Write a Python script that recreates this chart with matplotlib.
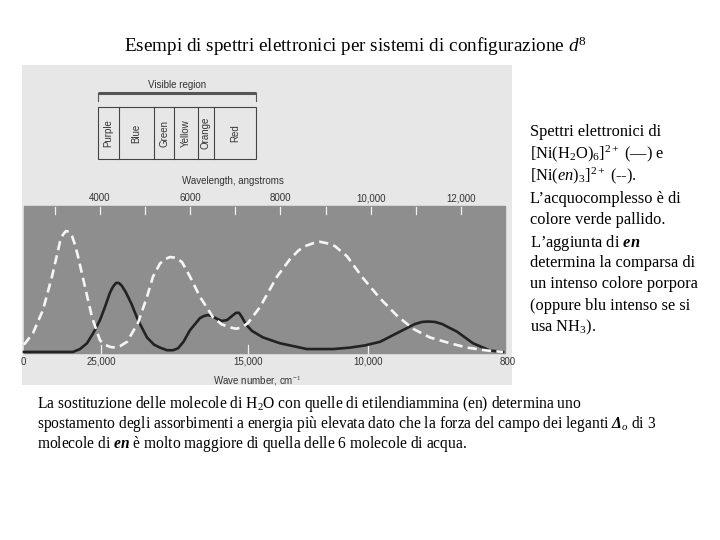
import matplotlib
matplotlib.use("Agg")
import matplotlib.pyplot as plt
from matplotlib.patches import Rectangle

plt.rcParams["font.family"] = ["Liberation Serif", "DejaVu Serif"]
plt.rcParams["mathtext.fontset"] = "custom"
plt.rcParams["mathtext.rm"] = "Liberation Serif"
plt.rcParams["mathtext.it"] = "Liberation Serif:italic"
plt.rcParams["mathtext.bf"] = "Liberation Serif:bold"
plt.rcParams["mathtext.bfit"] = "Liberation Serif:italic:bold"

# [Ni(en)3]2+ absorption (dashed), wavelength in angstrom / arbitrary absorbance
wl_en = [2315, 2515, 2736, 2936, 3069, 3113, 3180, 3246, 3313, 3379, 3446, 3512,
         3667, 3823, 4000, 4111, 4222, 4333, 4443, 4599, 4842, 5042, 5175, 5330,
         5441, 5552, 5685, 5818, 5995, 6217, 6505, 6700, 6882, 7015, 7148, 7281,
         7547, 7924, 8212, 8400, 8545, 8722, 8877, 9033, 9210, 9476, 9830, 10208,
         10585, 10940, 11316, 11760, 12136, 12580, 12935]
abs_en = [0.05, 0.13, 0.29, 0.52, 0.70, 0.76, 0.81, 0.834, 0.83, 0.80, 0.74, 0.66,
          0.45, 0.24, 0.08, 0.05, 0.035, 0.03, 0.04, 0.07, 0.20, 0.38, 0.52, 0.61,
          0.64, 0.655, 0.65, 0.62, 0.52, 0.38, 0.24, 0.19, 0.17, 0.16, 0.17, 0.20,
          0.31, 0.52, 0.64, 0.70, 0.73, 0.75, 0.76, 0.75, 0.73, 0.66, 0.51, 0.37,
          0.25, 0.16, 0.10, 0.06, 0.03, 0.01, 0.0]

# [Ni(H2O)6]2+ absorption (solid)
wl_aq = [2315, 2892, 3401, 3557, 3712, 3850, 4000, 4110, 4222, 4288, 4355, 4421,
         4488, 4576, 4700, 4842, 5042, 5200, 5330, 5485, 5618, 5730, 5850, 5995,
         6217, 6306, 6394, 6483, 6594, 6705, 6816, 6926, 7015, 7082, 7148, 7237,
         7370, 7614, 7991, 8589, 9166, 9543, 9870, 10208, 10585, 10984, 11139, 11272,
         11427, 11582, 11915, 12269, 12646, 12935]
abs_aq = [0.0, 0.0, 0.0, 0.02, 0.06, 0.13, 0.22, 0.31, 0.41, 0.45, 0.476, 0.476,
          0.455, 0.41, 0.33, 0.22, 0.10, 0.05, 0.03, 0.012, 0.012, 0.025, 0.07, 0.15,
          0.234, 0.248, 0.255, 0.248, 0.228, 0.214, 0.22, 0.248, 0.27, 0.27, 0.24, 0.19,
          0.145, 0.10, 0.06, 0.02, 0.02, 0.03, 0.045, 0.07, 0.13, 0.193, 0.207, 0.21,
          0.207, 0.193, 0.14, 0.06, 0.01, 0.0]

visible_edges = [3950, 4420, 5200, 5640, 6170, 6530, 7460]
visible_names = ["Purple", "Blue", "Green", "Yellow", "Orange", "Red"]

wl_ticks = [3000, 4000, 5000, 6000, 7000, 8000, 9000, 10000, 11000, 12000]
wl_label_pos = [4000, 6000, 8000, 10000, 12000]
wl_labels = ["4000", "6000", "8000", "10,000", "12,000"]

wn_label_pos = [2290, 4020, 7281, 9942, 13045]
wn_labels = ["0", "25,000", "15,000", "10,000", "800"]
wn_ticks = [4020, 7281, 9942]

W, H = 720, 540
fig = plt.figure(figsize=(7.2, 5.4), dpi=100)
fig.patch.set_facecolor("white")


def fx(px):
    return px / W


def fy(py):
    return 1 - py / H


fig.text(fx(356), fy(52), "Esempi di spettri elettronici per sistemi di configurazione $\\mathit{d}^{8}$",
         ha="center", va="baseline", fontsize=13.8, color="black")

# scanned figure area: x = wavelength, y = absorbance (extended upward for the legend diagram)
ax = fig.add_axes([fx(22), fy(385), fx(512) - fx(22), fy(65) - fy(385)])
ax.set_xlim(2271, 13134)
ax.set_ylim(-0.228, 1.98)
ax.axis("off")
ax.add_patch(Rectangle((0, 0), 1, 1, transform=ax.transAxes, color="#e7e7e7", zorder=0))
ax.add_patch(Rectangle((2315, -0.007), 12979 - 2315, 1.014, color="#8e8e8e", zorder=1))

ax.plot(wl_aq, abs_aq, color="#222222", lw=1.9, solid_joinstyle="round", zorder=3)
ax.plot(wl_en, abs_en, color="#f5f5f5", lw=1.9, dashes=(3.5, 2.0), zorder=4)

# wavelength ticks at the top of the panel
for t in wl_ticks:
    ax.plot([t, t], [1.0, 0.952], color="#f0f0f0", lw=0.9, zorder=2)
for t, lab in zip(wl_label_pos, wl_labels):
    ax.text(t, 1.062, lab, ha="center", va="center", fontsize=7,
            family="Liberation Sans", color="#333333")
ax.text(6949, 1.179, "Wavelength, angstroms", ha="center", va="center", fontsize=7,
        family="Liberation Sans", color="#333333")

# wave number ticks at the bottom
for t in wn_ticks:
    ax.plot([t, t], [-0.007, 0.048], color="#f0f0f0", lw=0.9, zorder=2)
for t, lab in zip(wn_label_pos, wn_labels):
    ax.text(t, -0.069, lab, ha="center", va="center", fontsize=7,
            family="Liberation Sans", color="#333333")
ax.text(7481, -0.2, "Wave number, cm$^{-1}$", ha="center", va="center", fontsize=7,
        family="Liberation Sans", color="#333333")

# visible region diagram
lo, hi = visible_edges[0], visible_edges[-1]
ax.plot([lo, hi], [1.786, 1.786], color="#555555", lw=2.2, solid_capstyle="butt")
ax.plot([lo, lo], [1.786, 1.73], color="#555555", lw=0.8)
ax.plot([hi, hi], [1.786, 1.73], color="#555555", lw=0.8)
ax.text((lo + hi) / 2, 1.841, "Visible region", ha="center", va="center", fontsize=7,
        family="Liberation Sans", color="#333333")
ax.add_patch(Rectangle((lo, 1.331), hi - lo, 0.359, fill=False, ec="#444444", lw=0.8))
for e in visible_edges[1:-1]:
    ax.plot([e, e], [1.331, 1.69], color="#444444", lw=0.8)
for a, b, name in zip(visible_edges[:-1], visible_edges[1:], visible_names):
    ax.text((a + b) / 2, 1.51, name, ha="center", va="center", rotation=90, fontsize=7,
            family="Liberation Sans", color="#333333")

# side notes (baseline y in pixels)
side = [
    (136, "Spettri elettronici di"),
    (158, "[Ni(H$_2$O)$_6$]$^{2+}$ (\u2014) e"),
    (180, "[Ni($\\mathit{en}$)$_3$]$^{2+}$ (--)."),
    (203, "L\u2019acquocomplesso \u00e8 di"),
    (224, "colore verde pallido."),
    (247, "L\u2019aggiunta di $\\mathbfit{en}$"),
    (267, "determina la comparsa di"),
    (288, "un intenso colore porpora"),
    (310, "(oppure blu intenso se si"),
    (331, "usa NH$_3$)."),
]
for y, s in side:
    fig.text(fx(530), fy(y), s, ha="left", va="baseline", fontsize=11.8, color="black")

bottom = [
    (408, "La sostituzione delle molecole di H$_2$O con quelle di etilendiammina (en) determina uno"),
    (428, "spostamento degli assorbimenti a energia pi\u00f9 elevata dato che la forza del campo dei leganti "
          "$\\mathbfit{\\Delta}_{\\mathit{o}}$ di 3"),
    (448, "molecole di $\\mathbfit{en}$ \u00e8 molto maggiore di quella delle 6 molecole di acqua."),
]
for y, s in bottom:
    fig.text(fx(37), fy(y), s, ha="left", va="baseline", fontsize=11.2, color="black")

fig.savefig("out.png", dpi=100, facecolor="white")
